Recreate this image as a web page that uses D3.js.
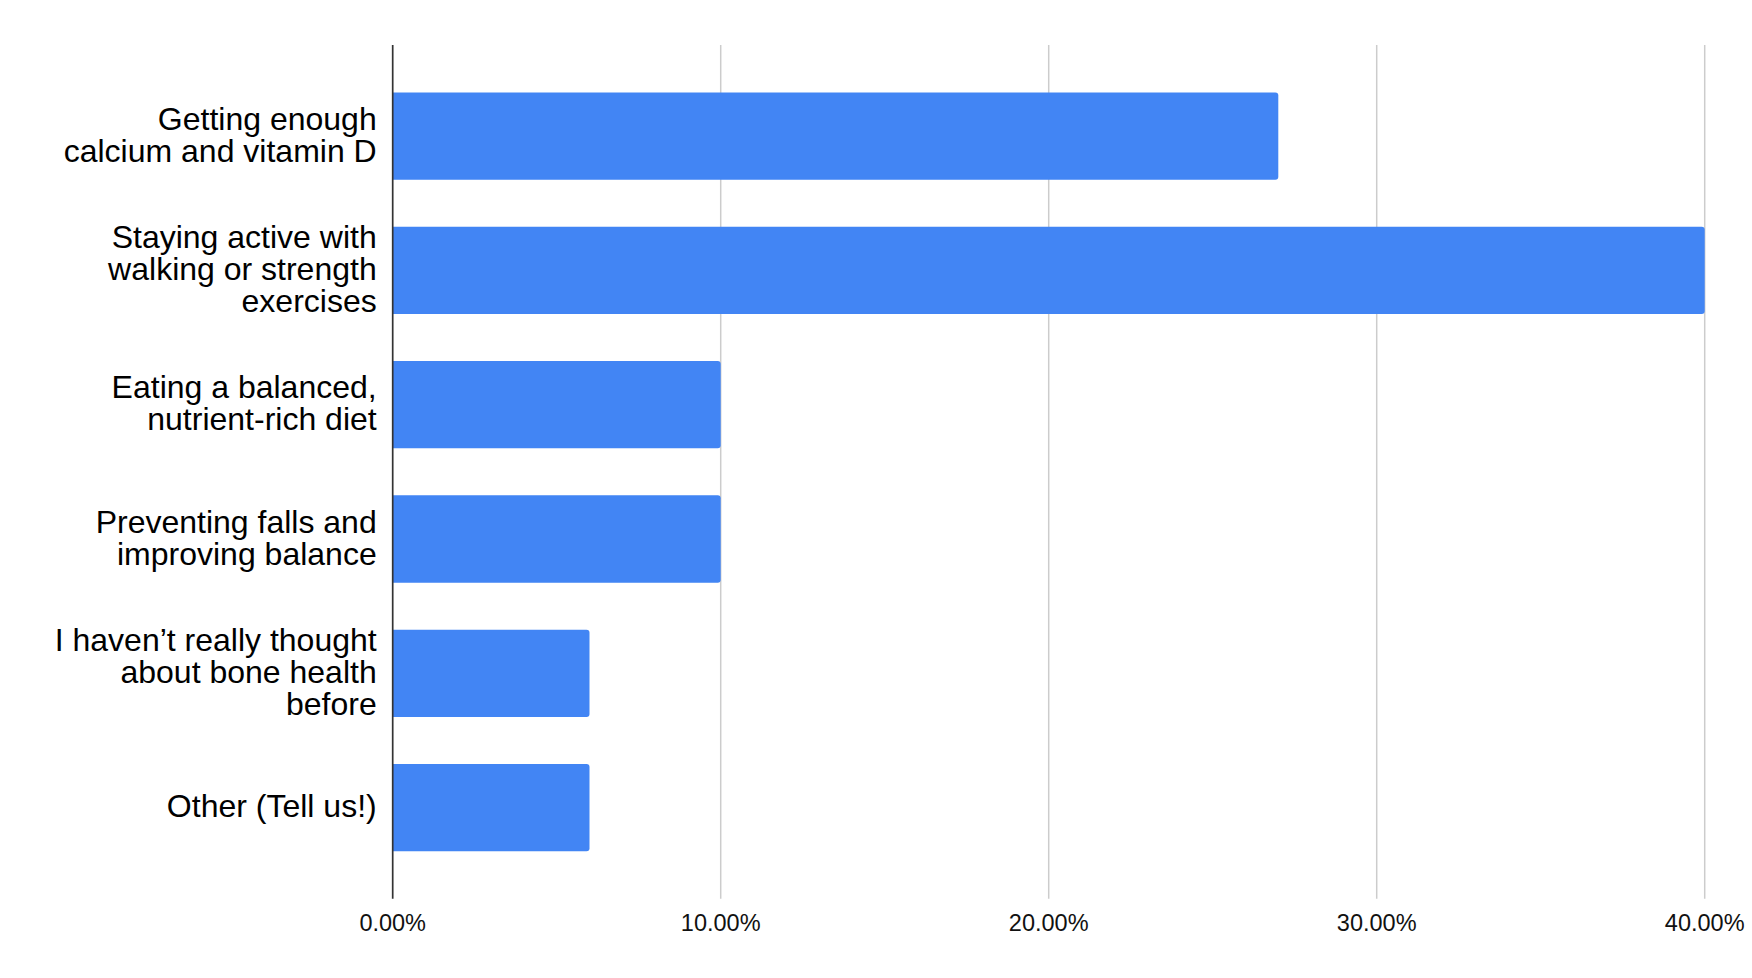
<!DOCTYPE html>
<html>
<head>
<meta charset="utf-8">
<script src="https://cdn.jsdelivr.net/npm/d3@7"></script>
<style>
  html, body { margin: 0; padding: 0; background: #fff; }
  svg { display: block; }
  text { font-family: "Liberation Sans", Arial, sans-serif; }
</style>
</head>
<body>
<svg id="chart" width="1752" height="978"></svg>
<script>
// ---- data ----
const categories = [
  "Getting enough\ncalcium and vitamin D",
  "Staying active with\nwalking or strength\nexercises",
  "Eating a balanced,\nnutrient-rich diet",
  "Preventing falls and\nimproving balance",
  "I haven\u2019t really thought\nabout bone health\nbefore",
  "Other (Tell us!)"
];
const values = [27, 40, 10, 10, 6, 6];           // percent
const tickValues = [0, 10, 20, 30, 40];
const tickLabels = ["0.00%", "10.00%", "20.00%", "30.00%", "40.00%"];

// ---- layout ----
const plot = { left: 392.7, right: 1704.7, top: 45, bottom: 898.7 };

const svg = d3.select("#chart");

const x = d3.scaleLinear().domain([0, 40]).range([plot.left, plot.right]);
const y = d3.scaleBand()
  .domain(categories)
  .range([plot.top, plot.bottom])
  .paddingInner(0.35)
  .paddingOuter(0.353);

// gridlines
svg.append("g")
  .selectAll("line")
  .data(tickValues.filter(d => d !== 0))
  .join("line")
  .attr("x1", d => x(d)).attr("x2", d => x(d))
  .attr("y1", plot.top).attr("y2", plot.bottom)
  .attr("stroke", "#cccccc")
  .attr("stroke-width", 1.5);

// bars with rounded right corners
const r = 3;
svg.append("g")
  .selectAll("path")
  .data(values.map((v, i) => ({ v, c: categories[i] })))
  .join("path")
  .attr("fill", "#4285F4")
  .attr("d", d => {
    const x0 = x(0), x1 = x(d.v), y0 = y(d.c), h = y.bandwidth();
    return `M${x0},${y0} H${x1 - r} Q${x1},${y0} ${x1},${y0 + r} V${y0 + h - r} Q${x1},${y0 + h} ${x1 - r},${y0 + h} H${x0} Z`;
  });

// axis line
svg.append("line")
  .attr("x1", x(0)).attr("x2", x(0))
  .attr("y1", plot.top).attr("y2", plot.bottom)
  .attr("stroke", "#333333")
  .attr("stroke-width", 1.7);

// category labels
const fontSize = 32, lineStep = 32;
const labels = svg.append("g")
  .selectAll("text")
  .data(categories)
  .join("text")
  .attr("text-anchor", "end")
  .attr("font-size", fontSize)
  .attr("fill", "#000");
labels.each(function (d) {
  const lines = d.split("\n");
  const cy = y(d) + y.bandwidth() / 2 - 1.5;
  const startY = cy - (lines.length - 1) * lineStep / 2;
  d3.select(this).selectAll("tspan")
    .data(lines)
    .join("tspan")
    .attr("x", x(0) - 16)
    .attr("y", (l, i) => startY + i * lineStep)
    .attr("dy", "0.35em")
    .text(l => l);
});

// x tick labels
svg.append("g")
  .selectAll("text")
  .data(tickValues)
  .join("text")
  .attr("x", d => x(d))
  .attr("y", 922.5)
  .attr("dy", "0.35em")
  .attr("text-anchor", "middle")
  .attr("font-size", 23.5)
  .attr("fill", "#111")
  .text((d, i) => tickLabels[i]);
</script>
</body>
</html>
